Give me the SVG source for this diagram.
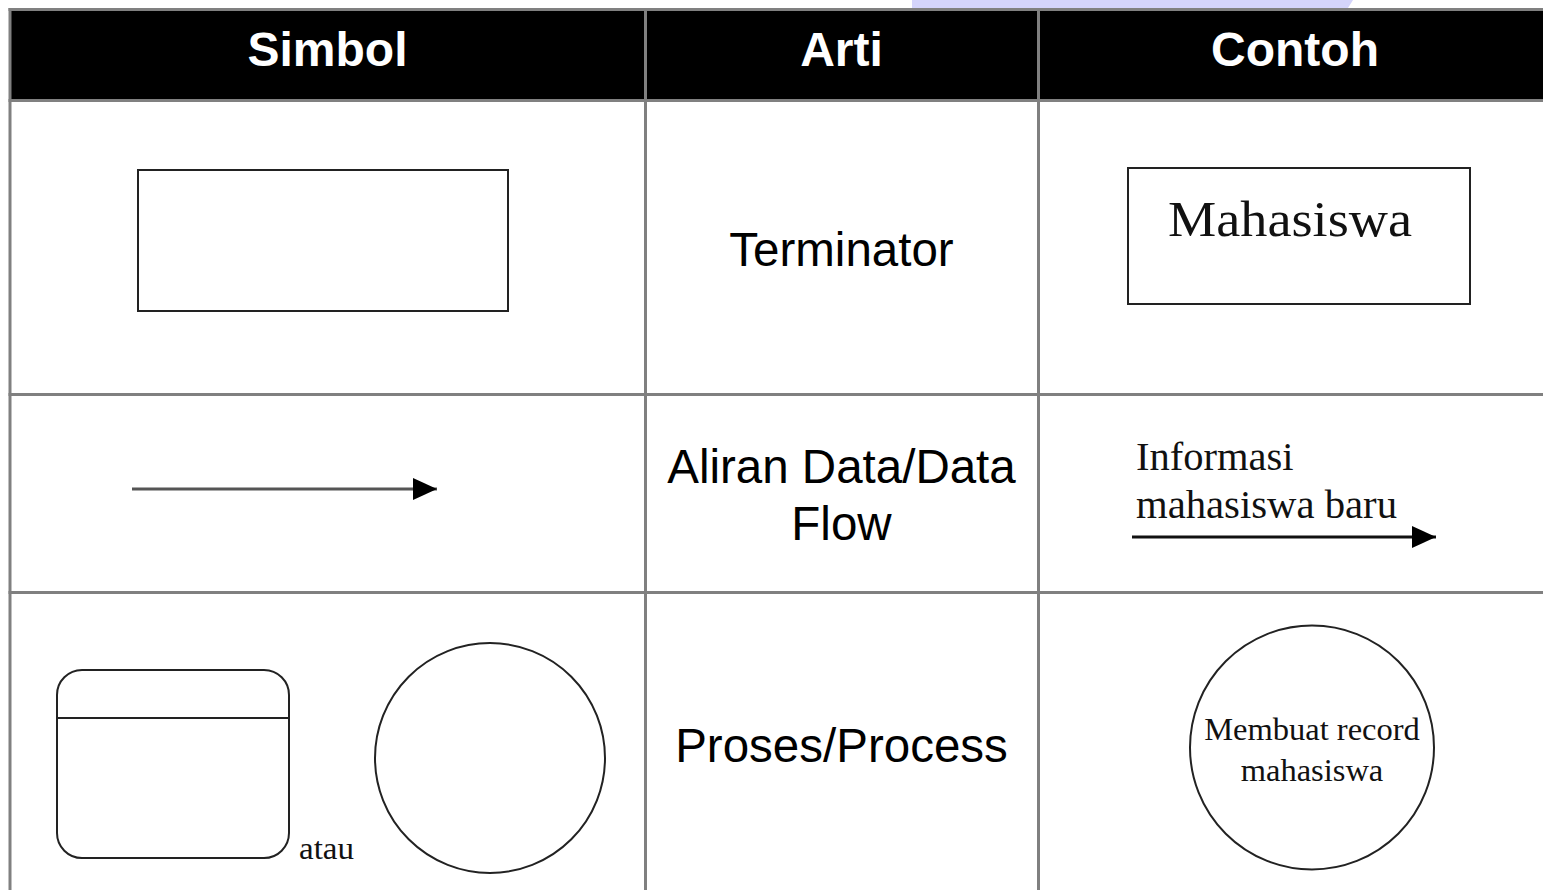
<svg xmlns="http://www.w3.org/2000/svg" width="1543" height="890" viewBox="0 0 1543 890">
<style>
.grid{stroke:#808080;stroke-width:3;fill:none}
.hdr{font-family:"Liberation Sans",Arial,sans-serif;font-weight:bold;font-size:48px;fill:#fff;text-anchor:middle}
.arti{font-family:"Liberation Sans",Arial,sans-serif;font-size:47.5px;fill:#000;text-anchor:middle}
.ser{font-family:"Liberation Serif","Times New Roman",serif;fill:#111}
.shape{fill:none;stroke:#222;stroke-width:2}
</style>
<defs>
<marker id="ah" markerUnits="userSpaceOnUse" markerWidth="26" markerHeight="24" refX="24" refY="11" orient="auto">
<path d="M0,0 L24,11 L0,22 Z" fill="#000"/>
</marker>
</defs>
<rect width="1543" height="890" fill="#fff"/>
<path d="M912,0 L1353,0 L1348,8 L912,8 Z" fill="#d4d4fb"/>
<g id="header">
<rect x="10" y="9.5" width="1533" height="91" fill="#000"/>
<text class="hdr" x="327.5" y="66">Simbol</text>
<text class="hdr" x="841.5" y="66">Arti</text>
<text class="hdr" x="1295" y="66">Contoh</text>
</g>
<g id="grid">
<line class="grid" x1="8.5" y1="9.5" x2="1543" y2="9.5"/>
<line class="grid" x1="10" y1="8" x2="10" y2="890"/>
<line class="grid" x1="8.5" y1="100.5" x2="1543" y2="100.5"/>
<line class="grid" x1="8.5" y1="394.5" x2="1543" y2="394.5"/>
<line class="grid" x1="8.5" y1="592.5" x2="1543" y2="592.5"/>
<line class="grid" x1="645.5" y1="8" x2="645.5" y2="890"/>
<line class="grid" x1="1038.5" y1="8" x2="1038.5" y2="890"/>
</g>
<g id="row-terminator">
<rect class="shape" x="138" y="170" width="370" height="141"/>
<text class="arti" x="841.5" y="266">Terminator</text>
<g id="ex-mahasiswa">
<rect class="shape" x="1128" y="168" width="342" height="136" stroke-width="2.5"/>
<text class="ser" x="1168" y="236" font-size="51" textLength="244" lengthAdjust="spacingAndGlyphs">Mahasiswa</text>
</g>
</g>
<g id="row-dataflow">
<text class="arti" x="841.5" y="483">Aliran Data/Data</text>
<text class="arti" x="841.5" y="540">Flow</text>
<g id="ex-informasi">
<text class="ser" x="1136" y="470" font-size="40.5">Informasi</text>
<text class="ser" x="1136" y="518" font-size="40.5" textLength="261" lengthAdjust="spacingAndGlyphs">mahasiswa baru</text>
</g>
</g>
<g id="connectors">
<line x1="132" y1="489" x2="437" y2="489" stroke="#555" stroke-width="3" marker-end="url(#ah)"/>
<line x1="1132" y1="537" x2="1436" y2="537" stroke="#111" stroke-width="3" marker-end="url(#ah)"/>
</g>
<g id="row-process">
<rect class="shape" x="57" y="670" width="232" height="188" rx="25" ry="25"/>
<line class="shape" x1="57" y1="718" x2="289" y2="718"/>
<text class="ser" x="299" y="859" font-size="32" textLength="55" lengthAdjust="spacingAndGlyphs">atau</text>
<circle class="shape" cx="490" cy="758" r="115"/>
<text class="arti" x="841.5" y="762">Proses/Process</text>
<g id="ex-process">
<circle class="shape" cx="1312" cy="747.5" r="122"/>
<text class="ser" x="1312" y="740" font-size="32.5" text-anchor="middle">Membuat record</text>
<text class="ser" x="1312" y="781" font-size="32.5" text-anchor="middle">mahasiswa</text>
</g>
</g>
</svg>
